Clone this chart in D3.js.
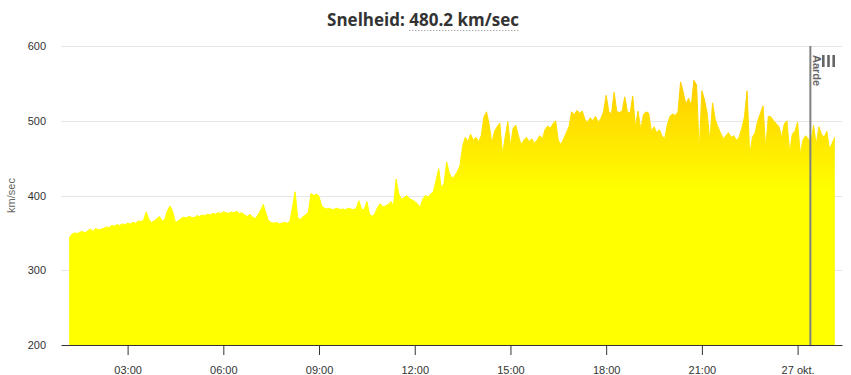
<!DOCTYPE html>
<html><head><meta charset="utf-8">
<script src="https://cdn.jsdelivr.net/npm/d3@7/dist/d3.min.js"></script>
<style>body{margin:0;background:#fff}svg{display:block}</style>
</head><body>
<svg id="c" width="851" height="375"></svg>
<script>
// ---- data ----
const titleLabel = "Snelheid: ";
const titleValue = "480.2 km/sec";
const yAxisTitle = "km/sec";
const seriesStart = "2023-10-26T01:10:00Z";
const stepMinutes = 5;
const speed = [
343,348,350,349,351,352,350,353,355,352,356,354,355,356,358,357,360,359,361,360,
362,361,363,362,364,363,366,365,367,378,368,364,366,369,372,366,368,380,386,378,
364,366,369,371,370,372,371,370,373,372,374,373,375,374,376,375,377,376,378,377,
376,378,377,379,376,377,374,372,375,371,369,374,380,388,377,366,364,363,364,362,
363,364,363,365,384,405,370,368,372,374,378,403,400,402,399,386,383,382,383,381,
382,383,381,382,381,383,382,381,383,393,382,381,392,375,372,376,384,389,385,386,
388,392,386,422,402,395,397,400,396,394,392,389,384,395,400,398,402,405,420,436,
410,416,445,430,423,426,432,440,466,478,472,482,474,478,472,480,505,512,495,470,
486,492,497,455,478,499,466,490,494,480,468,474,478,472,476,470,474,480,476,488,
493,490,496,500,474,468,476,484,492,512,508,514,510,513,502,498,504,500,506,498,
503,512,534,512,509,538,512,511,513,532,512,510,533,492,513,488,508,512,510,486,
492,484,488,480,476,495,506,509,507,512,552,538,522,530,520,554,548,460,540,528,
510,472,524,502,492,484,476,480,484,478,480,474,478,490,505,540,454,478,484,500,
510,520,462,506,505,500,496,492,478,496,500,458,482,486,498,456,474,480,476,470,
494,468,492,482,478,486,462,470,478
];
const yTicks = [200, 300, 400, 500, 600];
const xTickTimes = ["2023-10-26T03:00:00Z","2023-10-26T06:00:00Z","2023-10-26T09:00:00Z","2023-10-26T12:00:00Z",
                    "2023-10-26T15:00:00Z","2023-10-26T18:00:00Z","2023-10-26T21:00:00Z","2023-10-27T00:00:00Z"];
const xTickLabels = ["03:00","06:00","09:00","12:00","15:00","18:00","21:00","27 okt."];
const xDomainTimes = ["2023-10-26T00:54:45Z","2023-10-27T01:23:30Z"];
const plotLineTime = "2023-10-27T00:24:00Z";
const plotLineLabel = "Aarde";

// ---- layout ----
const L = 61, R = 842, T = 46, B = 345;
const svg = d3.select("#c");
const font = "'Liberation Sans', Arial, sans-serif";

const t0 = new Date(seriesStart);
const data = speed.map((v, i) => ({t: new Date(t0.getTime() + i * stepMinutes * 60000), v}));

const x = d3.scaleUtc().domain(xDomainTimes.map(s => new Date(s))).range([L, R]);
const y = d3.scaleLinear().domain([200, 600]).range([B, T]);

// gradient
const defs = svg.append("defs");
const grad = defs.append("linearGradient").attr("id", "g")
  .attr("gradientUnits", "userSpaceOnUse")
  .attr("x1", 0).attr("x2", 0).attr("y1", y(565)).attr("y2", y(405));
grad.append("stop").attr("offset", 0).attr("stop-color", "#FFC800");
grad.append("stop").attr("offset", 1).attr("stop-color", "#FFFF00");

// gridlines
svg.append("g").selectAll("line").data(yTicks.filter(d => d !== 200)).join("line")
  .attr("x1", L).attr("x2", R).attr("y1", d => Math.round(y(d)) + 0.5).attr("y2", d => Math.round(y(d)) + 0.5)
  .attr("stroke", "#e6e6e6").attr("stroke-width", 1);

// area
const area = d3.area().x(d => x(d.t)).y0(y(200)).y1(d => y(d.v));
svg.append("path").datum(data).attr("d", area).attr("fill", "url(#g)");
svg.append("path").datum(data).attr("d", d3.line().x(d => x(d.t)).y(d => y(d.v)))
  .attr("fill", "none").attr("stroke", "url(#g)").attr("stroke-width", 1);

// plot line
const px = x(new Date(plotLineTime));
svg.append("line").attr("x1", px).attr("x2", px).attr("y1", T).attr("y2", B)
  .attr("stroke", "#808080").attr("stroke-width", 2);
svg.append("text").attr("transform", `translate(${px + 3},${T + 9}) rotate(90)`)
  .attr("font-family", font).attr("font-size", 11).attr("font-weight", "bold")
  .attr("fill", "#666").text(plotLineLabel);

// x axis
const xa = svg.append("g").attr("transform", `translate(0,${B})`)
  .call(d3.axisBottom(x).tickValues(xTickTimes.map(s => new Date(s)))
    .tickFormat((d, i) => xTickLabels[i]).tickSize(10).tickSizeOuter(0));
xa.select(".domain").attr("stroke", "#333");
xa.selectAll(".tick line").attr("stroke", "#333");
xa.selectAll("text").attr("font-family", font).attr("font-size", 11).attr("fill", "#333").attr("dy", "1.45em");

// y axis labels
const ya = svg.append("g").attr("transform", `translate(${L},0)`)
  .call(d3.axisLeft(y).tickValues(yTicks).tickFormat(d3.format("d")).tickSize(0).tickPadding(15));
ya.select(".domain").remove();
ya.selectAll("text").attr("font-family", font).attr("font-size", 11).attr("fill", "#333");

// y title
svg.append("text").attr("transform", `translate(15,${(T + B) / 2}) rotate(-90)`)
  .attr("text-anchor", "middle").attr("font-family", font).attr("font-size", 11)
  .attr("fill", "#666").text(yAxisTitle);

// title
const title = svg.append("text").attr("x", 423).attr("y", 26).attr("text-anchor", "middle")
  .attr("font-family", "'Open Sans', 'Noto Sans', sans-serif").attr("font-size", 17).attr("font-weight", "bold")
  .attr("fill", "#333");
title.append("tspan").text(titleLabel);
const tv = title.append("tspan").text(titleValue);
const bb = tv.node().getBBox();
svg.append("line").attr("x1", bb.x).attr("x2", bb.x + bb.width).attr("y1", 30.5).attr("y2", 30.5)
  .attr("stroke", "#888").attr("stroke-width", 1).attr("stroke-dasharray", "1,2");

// menu button
svg.append("g").selectAll("rect").data([0, 1, 2]).join("rect")
  .attr("x", d => 822 + d * 5.2).attr("y", 55).attr("width", 2.6).attr("height", 12).attr("fill", "#666");
</script>
</body></html>
